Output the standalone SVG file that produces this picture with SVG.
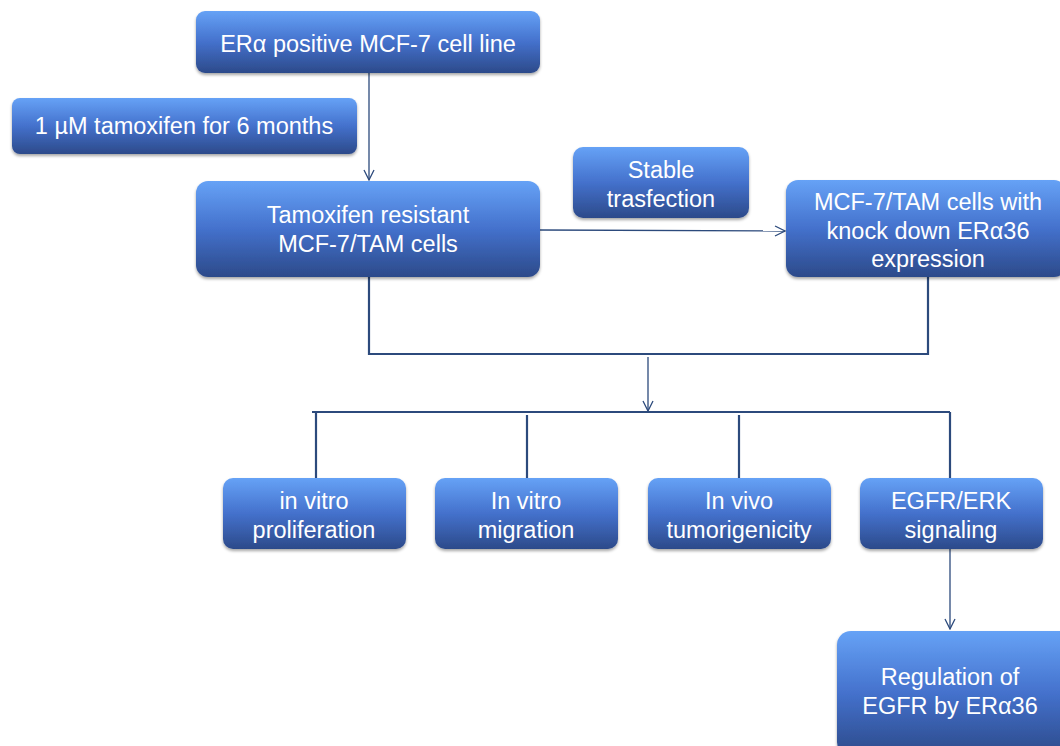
<svg xmlns="http://www.w3.org/2000/svg" width="1060" height="746" viewBox="0 0 1060 746">
<defs>
<linearGradient id="g" x1="0" y1="0" x2="0" y2="1">
<stop offset="0" stop-color="#66a2f6"/>
<stop offset="0.5" stop-color="#4471cc"/>
<stop offset="1" stop-color="#2c4a8a"/>
</linearGradient>
<filter id="sh" x="-10%" y="-10%" width="120%" height="130%">
<feDropShadow dx="0" dy="2" stdDeviation="1.5" flood-color="#000" flood-opacity="0.35"/>
</filter>
<marker id="ar" viewBox="0 0 12 12" refX="11" refY="6" markerWidth="12" markerHeight="12" markerUnits="userSpaceOnUse" orient="auto">
<path d="M1,1 L11,6 L1,11" fill="none" stroke="#2c4a7c" stroke-width="1.3"/>
</marker>
</defs>
<style>
.b{fill:url(#g);filter:url(#sh)}
text{font-family:"Liberation Sans",Arial,sans-serif;font-size:23.5px;fill:#ffffff;text-anchor:middle}
.c{fill:none;stroke:#2c4a7c;stroke-width:1.3}
.t{fill:none;stroke:#2c4a7c;stroke-width:2.2}
</style>
<g id="connectors">
<line class="c" x1="369" y1="73" x2="369" y2="180" marker-end="url(#ar)"/>
<line class="c" x1="540" y1="230" x2="785" y2="231" marker-end="url(#ar)"/>
<polyline class="t" points="369,277 369,354 928,354 928,277"/>
<line class="c" x1="648" y1="357" x2="648" y2="411" marker-end="url(#ar)"/>
<line class="t" x1="312" y1="412" x2="950" y2="412"/>
<line class="t" x1="316" y1="412" x2="316" y2="478"/>
<line class="t" x1="527" y1="415" x2="527" y2="478"/>
<line class="t" x1="739" y1="415" x2="739" y2="478"/>
<line class="t" x1="950" y1="412" x2="950" y2="478"/>
<line class="c" x1="950" y1="549" x2="950" y2="629" marker-end="url(#ar)"/>
</g>
<g id="n1"><rect class="b" x="196" y="11" width="344" height="62" rx="9"/><text x="368" y="52">ERα positive MCF-7 cell line</text></g>
<g id="n2"><rect class="b" x="12" y="98" width="345" height="56" rx="8"/><text x="184" y="134">1 µM tamoxifen for 6 months</text></g>
<g id="n3"><rect class="b" x="196" y="181" width="344" height="96" rx="12"/><text x="368" y="223">Tamoxifen resistant</text><text x="368" y="252">MCF-7/TAM cells</text></g>
<g id="n4"><rect class="b" x="573" y="147" width="176" height="71" rx="10"/><text x="661" y="178">Stable</text><text x="661" y="207">trasfection</text></g>
<g id="n5"><rect class="b" x="786" y="180" width="280" height="97" rx="12"/><text x="928" y="210">MCF-7/TAM cells with</text><text x="928" y="239">knock down ERα36</text><text x="928" y="267">expression</text></g>
<g id="n6"><rect class="b" x="223" y="478" width="183" height="71" rx="10"/><text x="314" y="509">in vitro</text><text x="314" y="538">proliferation</text></g>
<g id="n7"><rect class="b" x="435" y="478" width="183" height="71" rx="10"/><text x="526" y="509">In vitro</text><text x="526" y="538">migration</text></g>
<g id="n8"><rect class="b" x="648" y="478" width="183" height="71" rx="10"/><text x="739" y="509">In vivo</text><text x="739" y="538">tumorigenicity</text></g>
<g id="n9"><rect class="b" x="860" y="478" width="183" height="71" rx="10"/><text x="951" y="509">EGFR/ERK</text><text x="951" y="538">signaling</text></g>
<g id="n10"><rect class="b" x="837" y="631" width="240" height="125" rx="14"/><text x="950" y="685">Regulation of</text><text x="950" y="714">EGFR by ERα36</text></g>
</svg>
